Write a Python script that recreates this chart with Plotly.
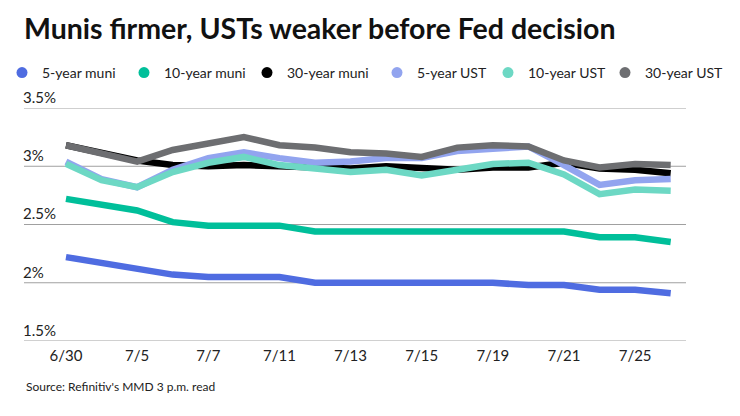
import plotly.graph_objects as go

dates = ["6/30", "7/1", "7/5", "7/6", "7/7", "7/8", "7/11", "7/12", "7/13", "7/14",
         "7/15", "7/18", "7/19", "7/20", "7/21", "7/22", "7/25", "7/26"]
tick_labels = ["6/30", "7/5", "7/7", "7/11", "7/13", "7/15", "7/19", "7/21", "7/25"]
y_ticks = [1.5, 2, 2.5, 3, 3.5]
y_tick_labels = ["1.5%", "2%", "2.5%", "3%", "3.5%"]

muni_5y = [2.22, 2.17, 2.13, 2.07, 2.05, 2.05, 2.05, 2.00, 2.00, 2.00,
           2.00, 2.00, 2.00, 1.98, 1.98, 1.94, 1.94, 1.91]
muni_10y = [2.72, 2.67, 2.62, 2.52, 2.49, 2.49, 2.49, 2.44, 2.44, 2.44,
            2.44, 2.44, 2.44, 2.44, 2.44, 2.39, 2.39, 2.35]
muni_30y = [3.18, 3.11, 3.05, 3.01, 3.00, 3.01, 3.00, 2.99, 2.98, 3.00,
            2.98, 2.97, 2.99, 2.99, 3.03, 2.98, 2.97, 2.94]
ust_5y = [3.04, 2.89, 2.82, 2.97, 3.07, 3.12, 3.07, 3.03, 3.04, 3.07,
          3.07, 3.13, 3.15, 3.17, 3.01, 2.84, 2.88, 2.89]
ust_10y = [3.02, 2.88, 2.82, 2.95, 3.03, 3.08, 3.01, 2.98, 2.95, 2.97,
           2.92, 2.97, 3.02, 3.03, 2.93, 2.76, 2.80, 2.79]
ust_30y = [3.18, 3.11, 3.04, 3.14, 3.20, 3.25, 3.18, 3.16, 3.12, 3.11,
           3.08, 3.16, 3.18, 3.17, 3.05, 2.99, 3.02, 3.01]

series_names = ["5-year muni", "10-year muni", "30-year muni",
                "5-year UST", "10-year UST", "30-year UST"]
series_values = [muni_5y, muni_10y, muni_30y, ust_5y, ust_10y, ust_30y]
series_colors = ["#4F6CE1", "#00BF9A", "#000000", "#92A4EF", "#6DD8C4", "#6D6E71"]

# layout geometry (pixels)
W, H = 740, 416
L, R, T, B = 24, 54, 108, 75
PW, PH = W - L - R, H - T - B
legend_left_px = [2, 124, 247, 377, 488, 605]
legend_center_y_px = 73

x_idx = list(range(len(dates)))
fig = go.Figure()

# horizontal grid lines at the y tick values
for v in y_ticks:
    fig.add_hline(y=v, line=dict(color="#A0A0A0", width=1), layer="below")

for name, vals, color in zip(series_names, series_values, series_colors):
    fig.add_trace(go.Scatter(
        x=x_idx, y=vals, mode="lines", name=name, showlegend=False,
        line=dict(color=color, width=6.5, shape="linear"),
        hovertemplate="%{text}: %{y:.2f}%<extra>" + name + "</extra>",
        text=dates,
    ))

legends = {}
for i, (name, color) in enumerate(zip(series_names, series_colors)):
    key = "legend" if i == 0 else f"legend{i + 1}"
    fig.add_trace(go.Scatter(
        x=[None], y=[None], mode="markers", name=name, legend=key,
        marker=dict(color=color, size=11, symbol="circle"),
    ))
    legends[key] = dict(
        orientation="h", x=(legend_left_px[i] - L) / PW, xanchor="left",
        y=(H - B - legend_center_y_px) / PH, yanchor="middle",
        font=dict(family="Lato", size=14, color="#222222"),
        bgcolor="rgba(0,0,0,0)", itemwidth=30,
    )

fig.update_layout(
    width=W, height=H,
    margin=dict(l=L, r=R, t=T, b=B, autoexpand=False),
    paper_bgcolor="white", plot_bgcolor="white",
    font=dict(family="Lato", color="#222222", size=14),
    title=dict(
        text="<b>Munis firmer, USTs weaker before Fed decision</b>",
        x=0, xref="paper", xanchor="left",
        y=1 - 29 / H, yref="container", yanchor="middle",
        font=dict(family="Lato", size=28.5, color="#111111"),
    ),
    showlegend=True,
    annotations=[dict(
        text="Source: Refinitiv's MMD 3 p.m. read", x=0, xref="paper",
        y=(H - B - 386) / PH, yref="paper", xanchor="left", yanchor="middle",
        showarrow=False, font=dict(family="Lato", size=12, color="#222222"),
    )],
    **legends,
)
fig.update_xaxes(
    range=[-1.18, 17.43], tickmode="array",
    tickvals=[dates.index(t) for t in tick_labels], ticktext=tick_labels,
    showgrid=False, zeroline=False, showline=False, ticks="",
    ticklabelstandoff=4,
    tickfont=dict(family="Lato", size=15, color="#222222"),
)
fig.update_yaxes(
    range=[1.5, 3.5], tickmode="array", tickvals=y_ticks, ticktext=y_tick_labels,
    ticklabelposition="inside top", ticklabeloverflow="allow",
    ticklabelstandoff=-4,
    showgrid=False, zeroline=False, showline=False, ticks="",
    tickfont=dict(family="Lato", size=15, color="#222222"),
)
fig.write_html("out.html", config={"displayModeBar": False},
               post_script="document.body.style.margin='0';")
